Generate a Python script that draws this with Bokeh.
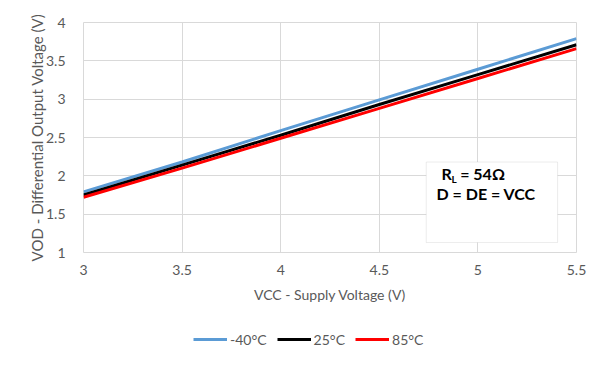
from bokeh.plotting import figure
from bokeh.layouts import column
from bokeh.models import Legend, LegendItem, BoxAnnotation, Label, Range1d, FixedTicker
from bokeh.embed import file_html
from bokeh.resources import INLINE

vcc = [3.0, 3.5, 4.0, 4.5, 5.0, 5.5]
vod_m40 = [1.79, 2.18, 2.59, 2.99, 3.39, 3.79]
vod_25 = [1.75, 2.14, 2.53, 2.93, 3.32, 3.71]
vod_85 = [1.72, 2.10, 2.49, 2.88, 3.27, 3.66]
series_names = ["-40°C", "25°C", "85°C"]
series_colors = ["#5b9bd5", "#000000", "#ff0000"]
x_ticks = [3, 3.5, 4, 4.5, 5, 5.5]
y_ticks = [1, 1.5, 2, 2.5, 3, 3.5, 4]

FONT = "Lato"
GREY = "#595959"

p = figure(width=605, height=312, output_backend="svg", toolbar_location=None,
           x_range=Range1d(3, 5.5), y_range=Range1d(1, 4),
           min_border_left=83, min_border_right=29, min_border_top=22, min_border_bottom=60)
p.outline_line_color = "#d9d9d9"
p.border_fill_color = "white"

p.xaxis.ticker = FixedTicker(ticks=x_ticks)
p.yaxis.ticker = FixedTicker(ticks=y_ticks)
p.xaxis.major_label_overrides = {3: "3", 3.5: "3.5", 4: "4", 4.5: "4.5", 5: "5", 5.5: "5.5"}
p.yaxis.major_label_overrides = {1: "1", 1.5: "1.5", 2: "2", 2.5: "2.5", 3: "3", 3.5: "3.5", 4: "4"}
for ax in (p.xaxis, p.yaxis):
    ax.axis_line_color = None
    ax.major_tick_line_color = None
    ax.minor_tick_line_color = None
    ax.major_label_text_font = FONT
    ax.major_label_text_font_size = "14px"
    ax.major_label_text_color = GREY
    ax.axis_label_text_font = FONT
    ax.axis_label_text_font_style = "normal"
    ax.axis_label_text_color = GREY
p.xaxis.axis_label_text_font_size = "14px"
p.yaxis.axis_label_text_font_size = "15px"
p.xaxis.major_label_standoff = 6
p.yaxis.major_label_standoff = 12
p.xaxis.axis_label = "VCC - Supply Voltage (V)"
p.yaxis.axis_label = "VOD - Differential Output Voltage (V)"
p.xaxis.axis_label_standoff = 8
p.yaxis.axis_label_standoff = -3
p.grid.grid_line_color = "#d9d9d9"
p.grid.grid_line_width = 1

for ys, c in zip([vod_m40, vod_25, vod_85], series_colors):
    p.line(vcc, ys, line_color=c, line_width=3)

# annotation box
box = BoxAnnotation(left=4.738, right=5.404, top=2.18, bottom=1.13,
                    fill_color="white", fill_alpha=1.0,
                    line_color="#bfbfbf", line_width=1)
p.add_layout(box)
lab_style = dict(text_font=FONT, text_font_style="bold", text_color="black")
p.add_layout(Label(x=4.815, y=1.905, text="R", text_font_size="16px", **lab_style))
p.add_layout(Label(x=4.866, y=1.885, text="L", text_font_size="10px", **lab_style))
p.add_layout(Label(x=4.91, y=1.905, text="= 54Ω", text_font_size="16px", **lab_style))
p.add_layout(Label(x=4.79, y=1.64, text="D = DE = VCC", text_font_size="16px", **lab_style))

# legend strip (same series, drawn outside its visible range so only the legend shows)
lf = figure(width=605, height=48, output_backend="svg", toolbar_location=None,
            x_range=Range1d(0, 1), y_range=Range1d(0, 1),
            min_border_left=0, min_border_right=0, min_border_top=0, min_border_bottom=0)
lf.axis.visible = False
lf.grid.visible = False
lf.outline_line_color = None
leg_renderers = []
for ys, c in zip([vod_m40, vod_25, vod_85], series_colors):
    leg_renderers.append(lf.line(vcc, ys, line_color=c, line_width=3))

legend = Legend(items=[LegendItem(label=n, renderers=[r]) for n, r in zip(series_names, leg_renderers)],
                orientation="horizontal", location=(110, 11),
                glyph_width=34, label_standoff=3, spacing=10, padding=0, margin=0,
                border_line_color=None, background_fill_alpha=0,
                label_text_font=FONT, label_text_font_size="14px", label_text_color=GREY)
lf.add_layout(legend)

open("out.html", "w").write(file_html(column(p, lf), INLINE))
